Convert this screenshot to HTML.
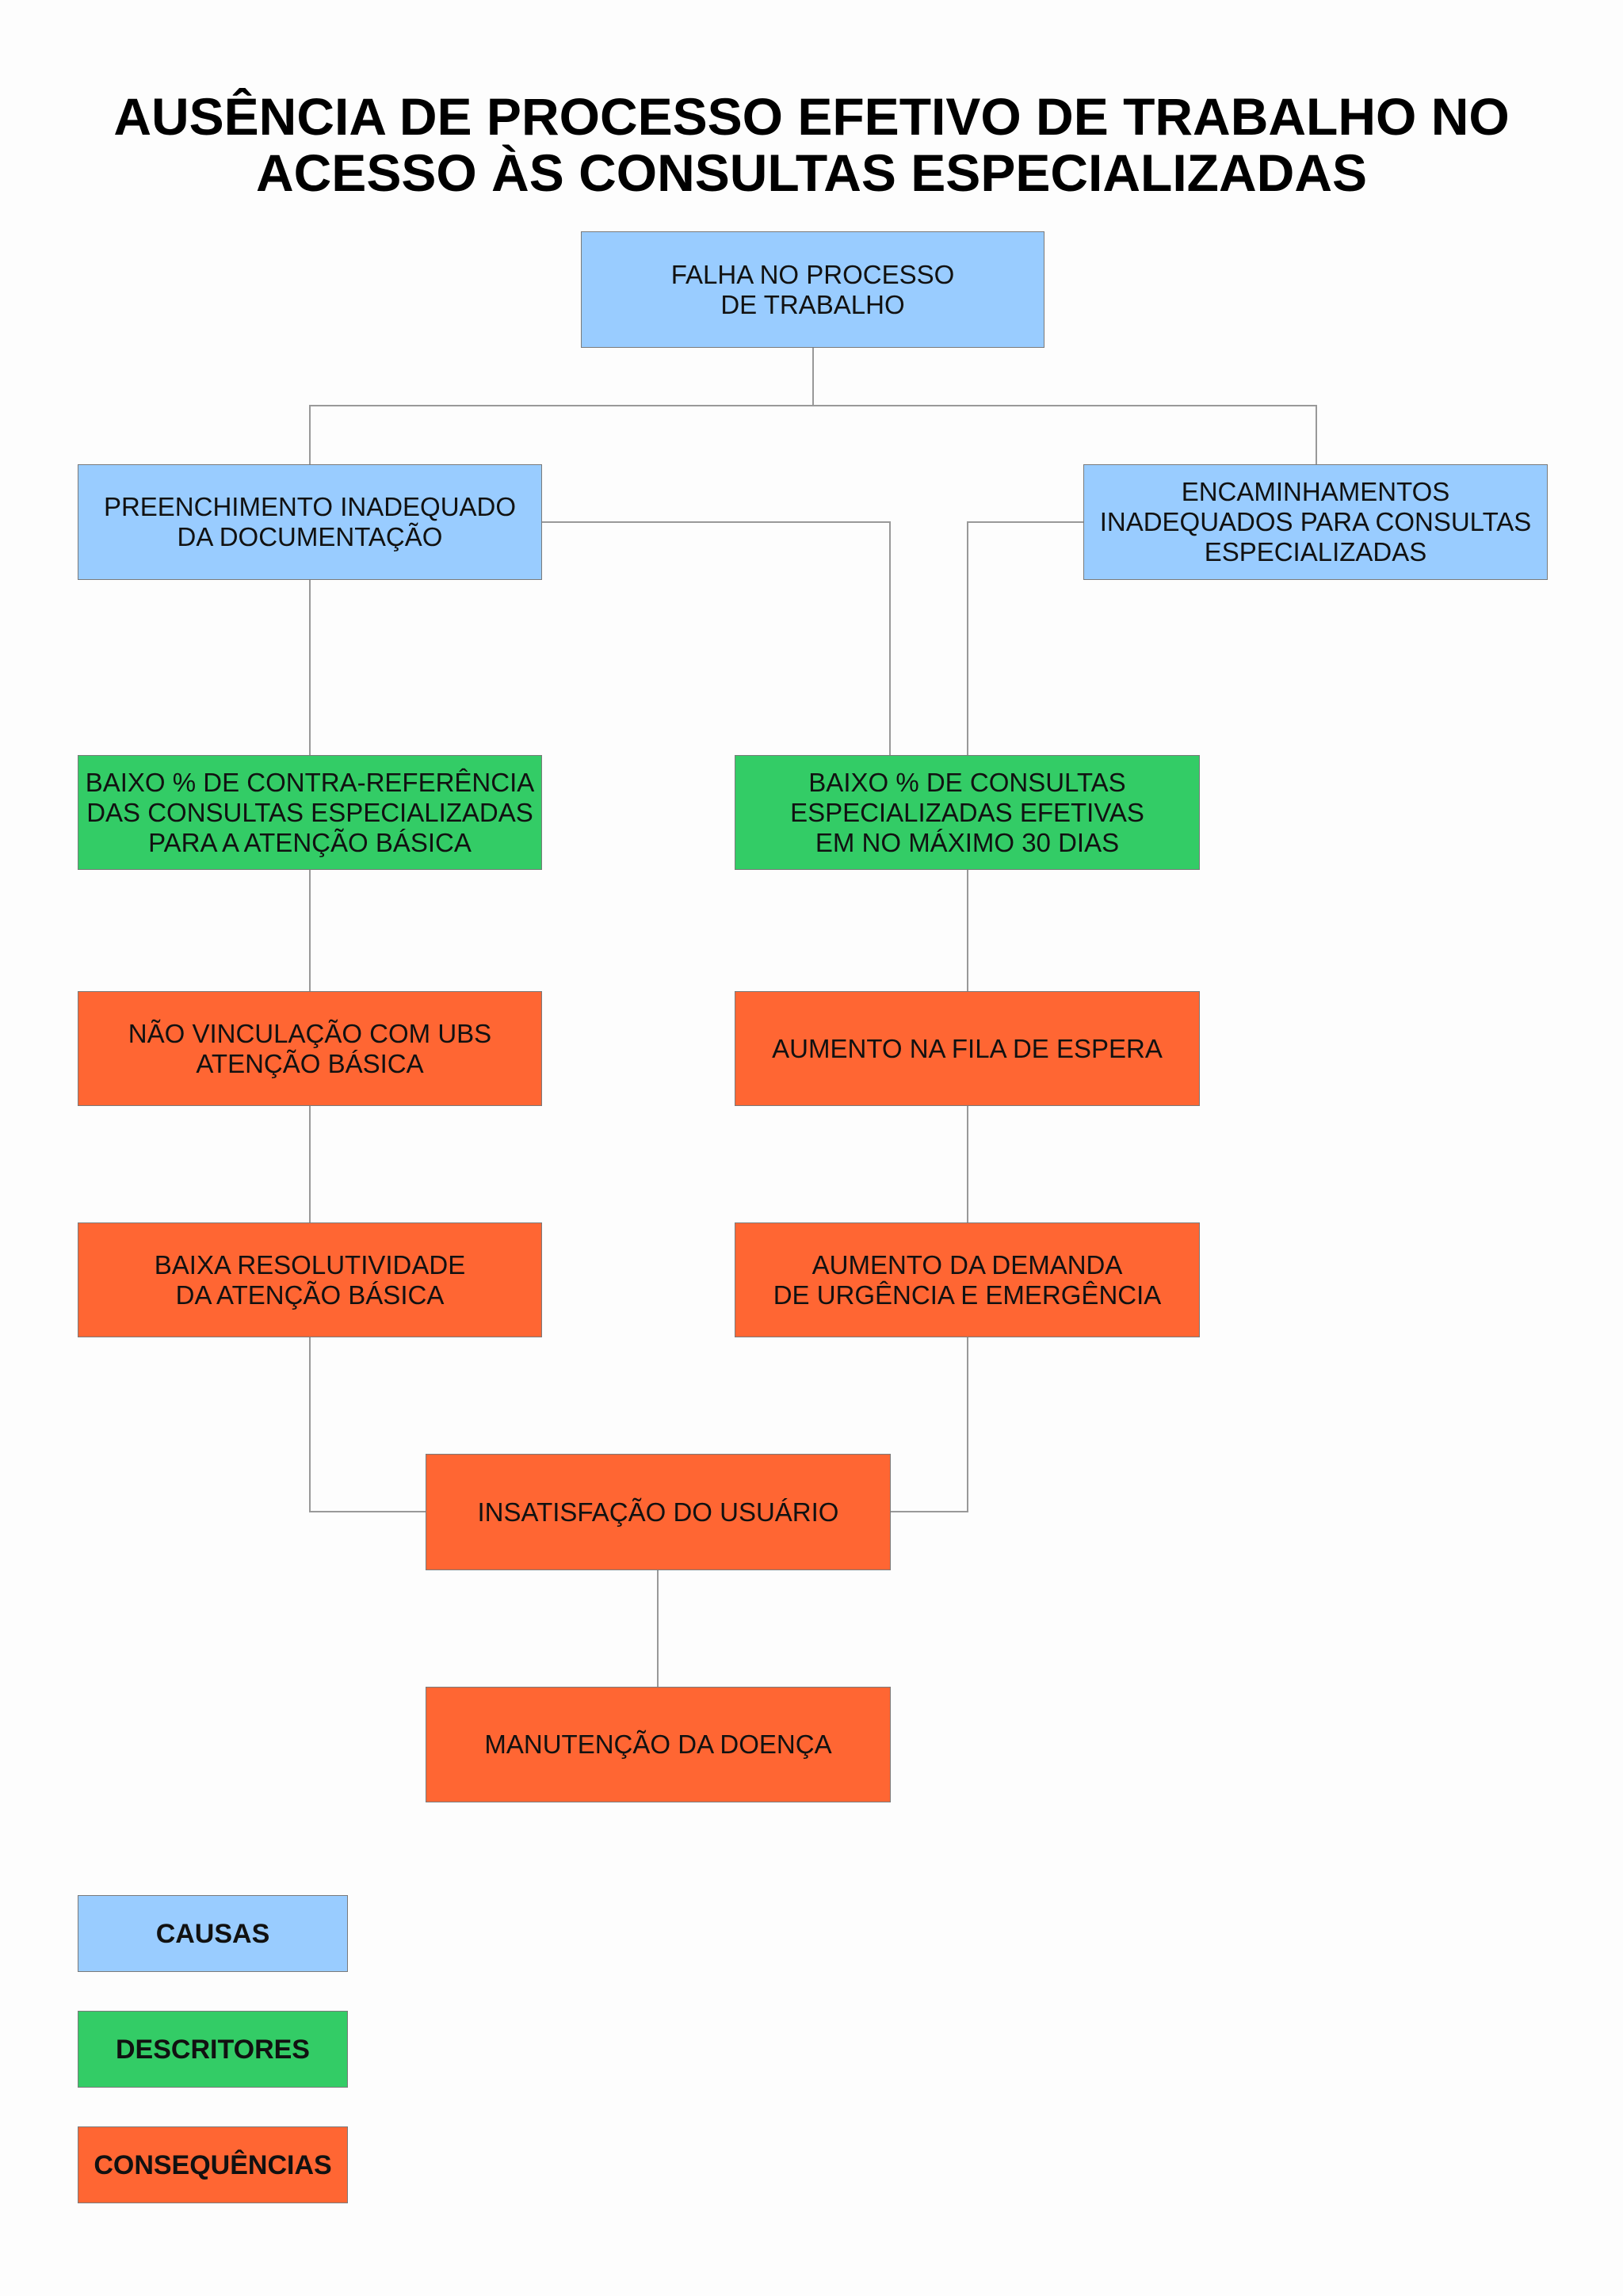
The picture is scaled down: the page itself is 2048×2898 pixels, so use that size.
<!DOCTYPE html>
<html><head><meta charset="utf-8"><style>
body{margin:0;background:#fdfdfd;}
#c{position:relative;width:2048px;height:2898px;overflow:hidden;font-family:"Liberation Sans",sans-serif;}
.t{position:absolute;left:0;width:2048px;text-align:center;font-weight:bold;font-size:66px;line-height:71px;top:112px;color:#000;}
.b{position:absolute;display:flex;align-items:center;justify-content:center;text-align:center;font-size:33px;line-height:38px;color:#111;box-sizing:border-box;border:1.5px solid #7a7a7a;white-space:nowrap;}
.bl{background:#99ccff;}.g{background:#33cc66;}.o{background:#ff6633;}
.l{position:absolute;background:#999;}
.lg{font-weight:bold;font-size:34px;}
</style></head><body><div id="c">
<div class="t">AUSÊNCIA DE PROCESSO EFETIVO DE TRABALHO NO<br>ACESSO ÀS CONSULTAS ESPECIALIZADAS</div>

<!-- connectors -->
<div class="l" style="left:1025px;top:438px;width:2px;height:74px"></div>
<div class="l" style="left:390px;top:511px;width:1272px;height:2px"></div>
<div class="l" style="left:390px;top:511px;width:2px;height:76px"></div>
<div class="l" style="left:1660px;top:511px;width:2px;height:76px"></div>
<div class="l" style="left:683px;top:658px;width:441px;height:2px"></div>
<div class="l" style="left:1122px;top:658px;width:2px;height:296px"></div>
<div class="l" style="left:1220px;top:658px;width:148px;height:2px"></div>
<div class="l" style="left:1220px;top:658px;width:2px;height:296px"></div>
<div class="l" style="left:390px;top:731px;width:2px;height:1177px"></div>
<div class="l" style="left:1220px;top:1097px;width:2px;height:811px"></div>
<div class="l" style="left:390px;top:1907px;width:148px;height:2px"></div>
<div class="l" style="left:1122px;top:1907px;width:100px;height:2px"></div>
<div class="l" style="left:829px;top:1981px;width:2px;height:149px"></div>

<div class="b bl" style="left:733px;top:292px;width:585px;height:147px">FALHA NO PROCESSO<br>DE TRABALHO</div>
<div class="b bl" style="left:98px;top:586px;width:586px;height:146px">PREENCHIMENTO INADEQUADO<br>DA DOCUMENTAÇÃO</div>
<div class="b bl" style="left:1367px;top:586px;width:586px;height:146px">ENCAMINHAMENTOS<br>INADEQUADOS PARA CONSULTAS<br>ESPECIALIZADAS</div>
<div class="b g" style="left:98px;top:953px;width:586px;height:145px">BAIXO % DE CONTRA-REFERÊNCIA<br>DAS CONSULTAS ESPECIALIZADAS<br>PARA A ATENÇÃO BÁSICA</div>
<div class="b g" style="left:927px;top:953px;width:587px;height:145px">BAIXO % DE CONSULTAS<br>ESPECIALIZADAS EFETIVAS<br>EM NO MÁXIMO 30 DIAS</div>
<div class="b o" style="left:98px;top:1251px;width:586px;height:145px">NÃO VINCULAÇÃO COM UBS<br>ATENÇÃO BÁSICA</div>
<div class="b o" style="left:927px;top:1251px;width:587px;height:145px">AUMENTO NA FILA DE ESPERA</div>
<div class="b o" style="left:98px;top:1543px;width:586px;height:145px">BAIXA RESOLUTIVIDADE<br>DA ATENÇÃO BÁSICA</div>
<div class="b o" style="left:927px;top:1543px;width:587px;height:145px">AUMENTO DA DEMANDA<br>DE URGÊNCIA E EMERGÊNCIA</div>
<div class="b o" style="left:537px;top:1835px;width:587px;height:147px">INSATISFAÇÃO DO USUÁRIO</div>
<div class="b o" style="left:537px;top:2129px;width:587px;height:146px">MANUTENÇÃO DA DOENÇA</div>

<div class="b bl lg" style="left:98px;top:2392px;width:341px;height:97px">CAUSAS</div>
<div class="b g lg" style="left:98px;top:2538px;width:341px;height:97px">DESCRITORES</div>
<div class="b o lg" style="left:98px;top:2684px;width:341px;height:97px">CONSEQUÊNCIAS</div>
</div></body></html>
